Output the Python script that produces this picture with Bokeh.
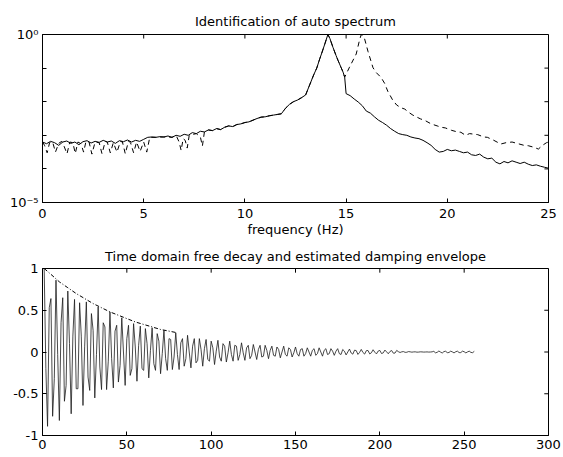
from bokeh.plotting import figure
from bokeh.layouts import column
from bokeh.models import FixedTicker, Range1d
from bokeh.embed import file_html
from bokeh.resources import INLINE

FONT = "DejaVu Sans"

# ---------------- top panel data (frequency in Hz, log10 of auto spectrum) -------------
solid_low_f = [0.0, 0.2, 0.4, 0.6, 0.8, 1.0, 1.2, 1.4, 1.6, 1.8, 2.0, 2.2, 2.4, 2.6, 2.8,
               3.0, 3.2, 3.4, 3.6, 3.8, 4.0, 4.2, 4.4, 4.6, 4.8, 5.0, 5.2, 5.4, 5.6, 5.8,
               6.0, 6.2, 6.4, 6.6, 6.8, 7.0, 7.2, 7.4, 7.6, 7.8]
solid_low_log = [-3.20, -3.25, -3.18, -3.22, -3.30, -3.20, -3.17, -3.24, -3.20, -3.28,
                 -3.19, -3.16, -3.23, -3.18, -3.21, -3.15, -3.20, -3.17, -3.24, -3.16,
                 -3.19, -3.14, -3.20, -3.15, -3.18, -3.12, -3.06, -3.05, -3.06, -3.04,
                 -3.05, -3.02, -3.06, -3.00, -3.03, -2.97, -3.00, -2.92, -2.95, -2.88]

shared_f = [8.0, 8.2, 8.4, 8.6, 8.8, 9.0, 9.2, 9.4, 9.6, 9.8, 10.0, 10.2, 10.4, 10.6,
            10.8, 11.0, 11.2, 11.4, 11.6, 11.8, 12.0, 12.2, 12.4, 12.6, 12.8, 13.0, 13.2,
            13.4, 13.55, 13.7, 13.8, 13.95, 14.1, 14.2, 14.35, 14.5, 14.6, 14.75, 14.85,
            14.93]
shared_log = [-2.90, -2.84, -2.86, -2.80, -2.83, -2.76, -2.72, -2.74, -2.68, -2.66,
              -2.62, -2.60, -2.55, -2.50, -2.46, -2.45, -2.42, -2.40, -2.38, -2.36,
              -2.20, -2.08, -2.00, -1.95, -1.88, -1.80, -1.50, -1.20, -1.00, -0.72,
              -0.55, -0.28, 0.00, -0.12, -0.38, -0.62, -0.77, -0.98, -1.12, -1.27]

solid_high_f = [15.0, 15.2, 15.4, 15.6, 15.8, 16.0, 16.2, 16.4, 16.6, 16.8, 17.0, 17.2,
                17.4, 17.6, 17.8, 18.0, 18.2, 18.4, 18.6, 18.8, 19.0, 19.2, 19.4, 19.6,
                19.8, 20.0, 20.2, 20.4, 20.6, 20.8, 21.0, 21.2, 21.4, 21.6, 21.8, 22.0,
                22.2, 22.4, 22.6, 22.8, 23.0, 23.2, 23.4, 23.6, 23.8, 24.0, 24.2, 24.4,
                24.6, 24.8, 25.0]
solid_high_log = [-1.76, -1.82, -1.92, -2.01, -2.12, -2.28, -2.34, -2.45, -2.55, -2.62,
                  -2.70, -2.80, -2.88, -2.95, -2.98, -3.00, -3.05, -3.08, -3.10, -3.15,
                  -3.22, -3.30, -3.42, -3.50, -3.48, -3.42, -3.46, -3.44, -3.48, -3.52,
                  -3.50, -3.58, -3.60, -3.56, -3.65, -3.70, -3.68, -3.80, -3.85, -3.78,
                  -3.82, -3.76, -3.80, -3.84, -3.80, -3.86, -3.90, -3.88, -3.92, -3.95,
                  -3.98]

dashed_low_f = [0.0, 0.1, 0.23, 0.35, 0.5, 0.64, 0.8, 0.95, 1.05, 1.21, 1.35, 1.5, 1.62,
                1.75, 1.9, 2.03, 2.15, 2.3, 2.44, 2.6, 2.8, 2.94, 3.1, 3.2, 3.35, 3.5,
                3.68, 3.85, 3.95, 4.09, 4.25, 4.35, 4.5, 4.65, 4.82, 5.0, 5.15, 5.3, 5.6,
                6.0, 6.4, 6.6, 6.75, 6.85, 6.95, 7.05, 7.15, 7.25, 7.6, 7.8, 7.9]
dashed_low_log = [-3.20, -3.30, -3.52, -3.22, -3.20, -3.50, -3.24, -3.18, -3.30, -3.55,
                  -3.20, -3.22, -3.54, -3.20, -3.25, -3.50, -3.18, -3.20, -3.56, -3.20,
                  -3.22, -3.55, -3.18, -3.20, -3.52, -3.22, -3.50, -3.18, -3.20, -3.55,
                  -3.17, -3.22, -3.52, -3.20, -3.48, -3.20, -3.50, -3.06, -3.06, -3.05,
                  -3.06, -3.00, -3.20, -3.45, -3.10, -3.15, -3.38, -3.00, -2.95, -3.05,
                  -3.32]

dashed_high_f = [15.17, 15.5, 15.67, 15.75, 15.91, 16.08, 16.33, 16.5, 16.73, 16.9,
                 17.06, 17.3, 17.5, 17.71, 17.9, 18.1, 18.3, 18.67, 18.9, 19.2, 19.5,
                 19.69, 19.9, 20.2, 20.5, 20.67, 20.9, 21.1, 21.5, 21.8, 21.98, 22.3,
                 22.64, 22.9, 23.2, 23.5, 23.8, 24.0, 24.3, 24.5, 24.7, 24.9, 25.0]
dashed_high_log = [-0.97, -0.58, -0.15, 0.00, -0.12, -0.50, -0.99, -1.14, -1.28, -1.45,
                   -1.69, -1.95, -2.10, -2.18, -2.22, -2.32, -2.40, -2.51, -2.56, -2.66,
                   -2.72, -2.76, -2.78, -2.85, -2.90, -2.91, -3.00, -2.95, -2.98, -3.05,
                   -3.06, -3.15, -3.26, -3.22, -3.20, -3.25, -3.30, -3.31, -3.36, -3.41,
                   -3.30, -3.22, -3.20]

# ---------------- bottom panel data (free decay samples and envelope) ------------------
decay = [
    1.00, -0.20, -0.89, 0.53, 0.64, -0.77, -0.32,
    0.86, -0.03, -0.82, 0.35, 0.65, -0.59, -0.40,
    0.73, 0.10, -0.74, 0.19, 0.63, -0.44, -0.44,
    0.59, 0.19, -0.64, 0.07, 0.60, -0.30, -0.46,
    0.46, 0.26, -0.55, -0.03, 0.54, -0.18, -0.45,
    0.35, 0.30, -0.45, -0.11, 0.48, -0.08, -0.43,
    0.25, 0.32, -0.36, -0.16, 0.41, 0.00, -0.40,
    0.16, 0.32, -0.28, -0.20, 0.34, 0.06, -0.35,
    0.08, 0.31, -0.20, -0.22, 0.28, 0.10, -0.31,
    0.02, 0.29, -0.14, -0.22, 0.22, 0.13, -0.26,
    -0.02, 0.26, -0.08, -0.22, 0.16, 0.15, -0.21,
    -0.06, 0.23, -0.03, -0.21, 0.11, 0.16, -0.17,
    -0.08, 0.20, 0.00, -0.19, 0.07, 0.16, -0.13,
    -0.10, 0.16, 0.03, -0.17, 0.04, 0.15, -0.09,
    -0.11, 0.13, 0.05, -0.15, 0.01, 0.14, -0.06,
    -0.11, 0.10, 0.07, -0.12, -0.01, 0.13, -0.03,
    -0.11, 0.08, 0.07, -0.10, -0.03, 0.11, -0.01,
    -0.10, 0.05, 0.08, -0.08, -0.04, 0.09, 0.00,
    -0.09, 0.03, 0.08, -0.06, -0.05, 0.08, 0.02,
    -0.08, 0.02, 0.07, -0.04, -0.05, 0.06, 0.03,
    -0.07, 0.00, 0.07, -0.03, -0.05, 0.05, 0.03,
    -0.06, -0.01, 0.06, -0.02, -0.05, 0.03, 0.04,
    -0.05, -0.02, 0.05, 0.00, -0.05, 0.02, 0.04,
    -0.04, -0.02, 0.05, 0.00, -0.05, 0.02, 0.04,
    -0.03, -0.02, 0.04, 0.01, -0.04, 0.01, 0.04,
    -0.02, -0.03, 0.03, 0.01, -0.035, 0.00, 0.035,
    -0.012, -0.026, 0.022, 0.017, -0.029, -0.005, 0.031,
    -0.006, -0.025, 0.016, 0.018, -0.023, -0.009, 0.027,
    -0.002, -0.023, 0.011, 0.019, -0.018, -0.011, 0.023,
    0.002, -0.021, 0.006, 0.018, -0.014, -0.013, 0.019,
    0.004, -0.006, 0.002, 0.005, -0.004, -0.003, 0.005,
    0.002, -0.002, 0.001, 0.002, -0.002, -0.001, 0.002,
    0.001, -0.001, 0.000, 0.001, -0.001, 0.000, 0.002,
    0.008, -0.010, -0.004, 0.012, -0.001, -0.012, 0.005,
    0.009, -0.008, -0.006, 0.010, 0.001, -0.011, 0.003,
    0.010, -0.007, -0.007, 0.010, 0.003, -0.011, 0.001,
    0.010, -0.005, -0.008, 0.008,
]
sample_no = list(range(1, len(decay) + 1))

env_t = [1, 5, 10, 15, 20, 25, 30, 35, 40, 45, 50, 55, 60, 65, 70, 75, 80]
env_v = [1.00, 0.93, 0.84, 0.77, 0.70, 0.64, 0.58, 0.53, 0.48, 0.44, 0.40, 0.36,
         0.33, 0.30, 0.27, 0.25, 0.23]

top_xticks = [0, 5, 10, 15, 20, 25]
top_yticks = [1e-5, 1.0]
top_yminor = [1e-4, 1e-3, 1e-2, 1e-1]
bot_xticks = [0, 50, 100, 150, 200, 250, 300]
bot_yticks = [-1, -0.5, 0, 0.5, 1]

solid_f = solid_low_f + shared_f + solid_high_f
solid_v = [10 ** v for v in solid_low_log + shared_log + solid_high_log]
dashed_f = dashed_low_f + shared_f + dashed_high_f
dashed_v = [10 ** v for v in dashed_low_log + shared_log + dashed_high_log]


def style_axis(ax):
    ax.major_tick_in = 4
    ax.major_tick_out = 0
    ax.minor_tick_in = 4
    ax.minor_tick_out = 0
    ax.major_tick_line_color = "black"
    ax.minor_tick_line_color = "black"
    ax.axis_line_color = "black"
    ax.major_label_text_font = FONT
    ax.major_label_text_font_size = "13px"
    ax.major_label_text_color = "black"


def style_title(p, text):
    p.title.text = text
    p.title.align = "center"
    p.title.text_font = FONT
    p.title.text_font_size = "13px"
    p.title.text_font_style = "normal"
    p.title.text_color = "black"


# ---------------- top figure ----------------
p1 = figure(width=563, height=241, y_axis_type="log",
            x_range=Range1d(0, 25), y_range=Range1d(1e-5, 1.0),
            output_backend="svg", toolbar_location=None,
            min_border_left=40, min_border_right=15, min_border_top=34, min_border_bottom=39)
style_title(p1, "Identification of auto spectrum")
p1.title.standoff = 11
p1.grid.visible = False
p1.outline_line_color = "black"

p1.line(solid_f, solid_v, color="black", line_width=1)
p1.line(dashed_f, dashed_v, color="black", line_width=1, line_dash="5 4")

# inward tick marks on the top and right edges (MATLAB box style)
tick_len_dec = 0.12  # decades
p1.segment(x0=top_xticks, y0=[1.0] * len(top_xticks),
           x1=top_xticks, y1=[10 ** -tick_len_dec] * len(top_xticks),
           color="black", line_width=1)
right_y = top_yticks + top_yminor
p1.segment(x0=[25] * len(right_y), y0=right_y, x1=[24.8] * len(right_y), y1=right_y,
           color="black", line_width=1)

xa = p1.xaxis[0]
xa.ticker = FixedTicker(ticks=top_xticks)
style_axis(xa)
xa.minor_tick_line_color = None
xa.major_label_standoff = 6
xa.axis_label = "frequency (Hz)"
xa.axis_label_text_font = FONT
xa.axis_label_text_font_size = "13px"
xa.axis_label_text_font_style = "normal"
xa.axis_label_text_color = "black"
xa.axis_label_standoff = 1

ya = p1.yaxis[0]
ya.ticker = FixedTicker(ticks=top_yticks, minor_ticks=top_yminor)
style_axis(ya)
ya.major_label_overrides = {1.0: "10\u2070", 1e-5: "10\u207b\u2075"}
ya.major_label_standoff = 4

# ---------------- bottom figure ----------------
p2 = figure(width=563, height=216,
            x_range=Range1d(0, 300), y_range=Range1d(-1, 1),
            output_backend="svg", toolbar_location=None,
            min_border_left=42, min_border_right=12, min_border_top=25, min_border_bottom=22)
style_title(p2, "Time domain free decay and estimated damping envelope")
p2.title.standoff = 10
p2.grid.visible = False
p2.outline_line_color = "black"

p2.line(sample_no, decay, color="#1a1a1a", line_width=0.8)
p2.line(env_t, env_v, color="black", line_width=1, line_dash="4 2 1 2")

p2.segment(x0=bot_xticks, y0=[1] * len(bot_xticks), x1=bot_xticks,
           y1=[0.95] * len(bot_xticks), color="black", line_width=1)
p2.segment(x0=[300] * len(bot_yticks), y0=bot_yticks, x1=[297.5] * len(bot_yticks),
           y1=bot_yticks, color="black", line_width=1)

xb = p2.xaxis[0]
xb.ticker = FixedTicker(ticks=bot_xticks)
style_axis(xb)
xb.minor_tick_line_color = None
xb.major_label_standoff = 4

yb = p2.yaxis[0]
yb.ticker = FixedTicker(ticks=bot_yticks)
style_axis(yb)
yb.minor_tick_line_color = None
yb.major_label_overrides = {1: "1", 0.5: "0.5", 0: "0", -0.5: "-0.5", -1: "-1"}
yb.major_label_standoff = 4

layout = column(p1, p2, spacing=0)
open("out.html", "w").write(file_html(layout, INLINE))
